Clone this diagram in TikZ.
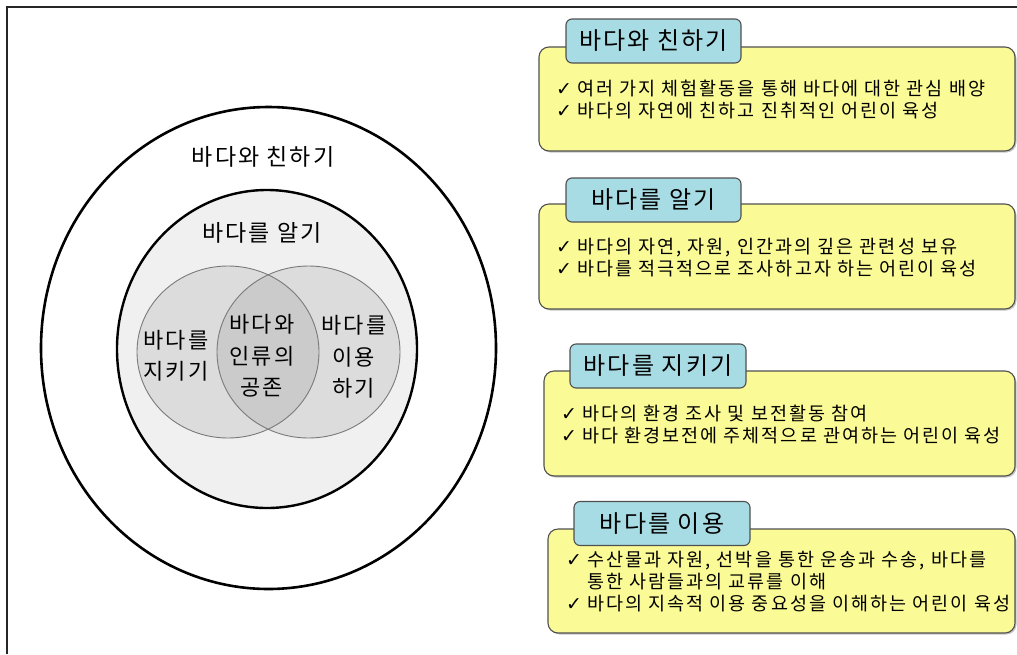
\documentclass[tikz,border=0pt]{standalone}
\usepackage{fontspec}
\setmainfont[LetterSpace=9]{Noto Sans CJK KR}
\newfontfamily\symfont{DejaVu Sans}
\usetikzlibrary{shadows}
\definecolor{boxyellow}{HTML}{FAFA96}
\definecolor{tabblue}{HTML}{A8DCE4}
\definecolor{boxedge}{HTML}{505050}
\definecolor{innerfill}{HTML}{F0F0F0}
\definecolor{vennfill}{HTML}{DCDCDC}
\definecolor{overlapfill}{HTML}{CBCBCB}
\definecolor{vennedge}{HTML}{7A7A7A}
\newcommand{\chk}{{\symfont\fontsize{19}{15}\selectfont ✓}}
\begin{document}
\begin{tikzpicture}[x=1pt,y=-1pt,
  frameline/.style={line width=1.5pt, draw=black!85},
  outerell/.style={line width=2.6pt, draw=black, fill=white},
  innerell/.style={line width=2.4pt, draw=black, fill=innerfill},
  vennline/.style={line width=0.9pt, draw=vennedge},
  bigtext/.style={font=\fontsize{23}{28}\selectfont, inner sep=0pt},
  venntext/.style={font=\fontsize{22}{31.5}\selectfont, align=center, inner sep=0pt},
  card/.style={draw=boxedge, line width=1.1pt, fill=boxyellow, rounded corners=10pt,
    drop shadow={shadow xshift=1.5pt, shadow yshift=-1.5pt, opacity=0.45}},
  tabbox/.style={draw=boxedge, line width=1.1pt, fill=tabblue, rounded corners=6pt,
    font=\fontsize{24}{28}\selectfont, inner sep=0pt, minimum height=44pt},
  bullets/.style={anchor=base west, inner sep=0pt,
    font=\fontsize{18.5}{22}\selectfont\addfontfeature{LetterSpace=11}}
]
\useasboundingbox (0,0) rectangle (1017,654);
\fill[white] (0,0) rectangle (1017,654);
\draw[frameline] (7,654) -- (7,7) -- (1017,7);

% nested ellipses
\draw[outerell] (268.5,348) ellipse [x radius=227.5, y radius=241];
\draw[innerell] (267,349) ellipse [x radius=150, y radius=159];

% Venn
\fill[vennfill] (228,352) ellipse [x radius=91, y radius=86];
\fill[vennfill] (308.5,352) ellipse [x radius=91.5, y radius=86];
\begin{scope}
  \clip (228,352) ellipse [x radius=91, y radius=86];
  \fill[overlapfill] (308.5,352) ellipse [x radius=91.5, y radius=86];
\end{scope}
\draw[vennline] (228,352) ellipse [x radius=91, y radius=86];
\draw[vennline] (308.5,352) ellipse [x radius=91.5, y radius=86];

\node[bigtext] (outerlabel) at (263,157) {바다와 친하기};
\node[bigtext] (innerlabel) at (262,233) {바다를 알기};
\node[venntext] (vleft) at (176,356) {바다를\\지키기};
\node[venntext] (vmid) at (262,356) {바다와\\인류의\\공존};
\node[venntext] (vright) at (354,357) {바다를\\이용\\하기};

% cards
\node[card, minimum width=476pt, minimum height=104pt] (card1) at (777,99) {};
\node[tabbox, minimum width=175pt] (tab1) at (653.5,41) {바다와 친하기};
\node[bullets] (text1) at (556,95) {\begin{tabular}[t]{@{}l@{\hspace{5pt}}l@{}}
\chk & 여러 가지 체험활동을 통해 바다에 대한 관심 배양\\
\chk & 바다의 자연에 친하고 진취적인 어린이 육성
\end{tabular}};

\node[card, minimum width=476pt, minimum height=105pt] (card2) at (777,256.5) {};
\node[tabbox, minimum width=175pt] (tab2) at (653.5,200) {바다를 알기};
\node[bullets] (text2) at (556,253) {\begin{tabular}[t]{@{}l@{\hspace{5pt}}l@{}}
\chk & 바다의 자연, 자원, 인간과의 깊은 관련성 보유\\
\chk & 바다를 적극적으로 조사하고자 하는 어린이 육성
\end{tabular}};

\node[card, minimum width=471pt, minimum height=105pt] (card3) at (779.5,423.5) {};
\node[tabbox, minimum width=176pt] (tab3) at (658,366) {바다를 지키기};
\node[bullets] (text3) at (561,420) {\begin{tabular}[t]{@{}l@{\hspace{5pt}}l@{}}
\chk & 바다의 환경 조사 및 보전활동 참여\\
\chk & 바다 환경보전에 주체적으로 관여하는 어린이 육성
\end{tabular}};

\node[card, minimum width=467pt, minimum height=104pt] (card4) at (781.5,581) {};
\node[tabbox, minimum width=176pt] (tab4) at (662,523.5) {바다를 이용};
\node[bullets] (text4) at (566,566) {\begin{tabular}[t]{@{}l@{\hspace{5pt}}l@{}}
\chk & 수산물과 자원, 선박을 통한 운송과 수송, 바다를\\
 & 통한 사람들과의 교류를 이해\\
\chk & 바다의 지속적 이용 중요성을 이해하는 어린이 육성
\end{tabular}};
\end{tikzpicture}
\end{document}
